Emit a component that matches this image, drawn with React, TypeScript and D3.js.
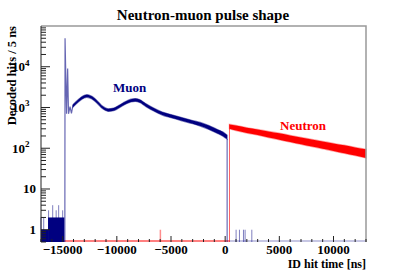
import React from "react";
import * as d3 from "d3";

const width = 407;
const height = 270;
const frame = { left: 41, right: 366, top: 26, bottom: 242 };

// muon: sharp prompt spike
const spikeTimes = [-14800, -14780, -14640, -14540, -14460, -14320, -14190, -14050];
const spikeHits = [0.5, 50000, 700, 9000, 700, 1050, 720, 1150];

// muon: smooth part (lower / upper edge of the noisy band)
const muonTimes = [-14050, -13500, -13000, -12780, -12300, -11800, -11300, -10800, -10300, -9800, -9200, -8700, -8300, -7900, -7300, -6600, -5800, -5000, -4000, -3000, -2300, -1500, -800, -200, 180];
const muonLow = [1020, 1400, 1720, 1780, 1620, 1250, 925, 800, 830, 970, 1200, 1370, 1410, 1330, 1050, 820, 650, 560, 470, 400, 350, 290, 236, 198, 168];
const muonHigh = [1180, 1620, 2000, 2060, 1880, 1450, 1075, 930, 965, 1130, 1400, 1600, 1660, 1560, 1230, 965, 770, 670, 565, 480, 430, 360, 296, 250, 210];

// muon: random hits before the spike and after the end
const muonNoiseBlocks = [
  [-17000, -16350, 1],
  [-16350, -14850, 2],
];
const muonSpikeTimes = [-17000, -16750, -16300, -15920, -15600, -15370, -15000, 1010, 1320, 1690, 1840, 2460];
const muonSpikeHits = [2, 2, 3, 4, 3, 4, 3, 1, 1, 1, 1, 1];

// neutron
const neutronTimes = [400, 1000, 2000, 3000, 4000, 5000, 6000, 7000, 8000, 9000, 10000, 11000, 12000, 13000];
const neutronLow = [300, 272, 236, 210, 183, 162, 142, 125, 110, 97, 86, 75, 66, 58];
const neutronHigh = [385, 360, 318, 290, 258, 233, 206, 183, 164, 147, 131, 118, 105, 94];
const neutronSpikeTimes = [-5980];
const neutronSpikeHits = [1];

const xTickValues = [-15000, -10000, -5000, 0, 5000, 10000];
const xTickLabels = ["\u221215000", "\u221210000", "\u22125000", "0", "5000", "10000"];
const yTickValues = [1, 10, 100, 1000, 10000];
const yTickBase = ["1", "10", "10", "10", "10"];
const yTickExp = ["", "", "2", "3", "4"];

const navy = "#000080";
const red = "#ff0000";
const font = "'Liberation Serif', 'Times New Roman', serif";

export default function App() {
  const x = d3.scaleLinear().domain([-17000, 13000]).range([frame.left, frame.right]);
  const y = d3.scaleLog().domain([0.5, 1e5]).range([frame.bottom, frame.top]);

  const band = d3
    .area<number>()
    .x((_, i) => x(muonTimes[i]))
    .y0((_, i) => y(muonLow[i]))
    .y1((_, i) => y(muonHigh[i]))
    .curve(d3.curveMonotoneX);

  const nBand = d3
    .area<number>()
    .x((_, i) => x(neutronTimes[i]))
    .y0((_, i) => y(neutronLow[i]))
    .y1((_, i) => y(neutronHigh[i]))
    .curve(d3.curveMonotoneX);

  const spikeLine = d3
    .line<number>()
    .x((_, i) => x(spikeTimes[i]))
    .y((_, i) => y(spikeHits[i]));

  const minorX = x.ticks(30).filter((t) => t % 5000 !== 0);
  const minorY = y
    .ticks()
    .filter((t) => !yTickValues.includes(t) && t < 1e5 && t >= 0.5);

  const nStart = neutronTimes[0];
  const nStartHigh = neutronHigh[0];
  const muonEnd = muonTimes[muonTimes.length - 1];

  return (
    <svg width={width} height={height} style={{ position: "absolute", left: 0, top: 0 }}>
      <rect width={width} height={height} fill="#fff" />

      <text x={203} y={20} textAnchor="middle" fontFamily={font} fontWeight="bold" fontSize={15}>
        Neutron-muon pulse shape
      </text>

      {/* neutron histogram */}
      <line x1={frame.left} x2={x(nStart)} y1={frame.bottom - 1} y2={frame.bottom - 1} stroke={red} strokeOpacity={0.5} strokeWidth={2} />
      {neutronSpikeTimes.map((t, i) => (
        <line key={"ns" + i} x1={x(t)} x2={x(t)} y1={frame.bottom} y2={y(neutronSpikeHits[i])} stroke={red} strokeOpacity={0.45} strokeWidth={1.5} />
      ))}
      <line x1={x(nStart)} x2={x(nStart)} y1={frame.bottom} y2={y(nStartHigh)} stroke={red} strokeOpacity={0.6} strokeWidth={1} />
      <path d={nBand(neutronTimes) ?? ""} fill={red} stroke={red} strokeWidth={1.5} strokeOpacity={0.35} />

      {/* muon histogram */}
      <line x1={x(nStart)} x2={frame.right} y1={frame.bottom - 1} y2={frame.bottom - 1} stroke={navy} strokeOpacity={0.3} strokeWidth={1.5} />
      {muonNoiseBlocks.map(([t0, t1, v], i) => (
        <rect key={"nb" + i} x={x(t0)} width={x(t1) - x(t0)} y={y(v)} height={frame.bottom - y(v)} fill={navy} />
      ))}
      {muonSpikeTimes.map((t, i) => (
        <line key={"ms" + i} x1={x(t)} x2={x(t)} y1={frame.bottom} y2={y(muonSpikeHits[i])} stroke={navy} strokeOpacity={0.5} strokeWidth={1} />
      ))}
      <path d={spikeLine(spikeTimes) ?? ""} fill="none" stroke={navy} strokeOpacity={0.6} strokeWidth={1.2} />
      <path d={band(muonTimes) ?? ""} fill={navy} stroke={navy} strokeWidth={1.2} strokeOpacity={0.5} />
      <line x1={x(muonEnd)} x2={x(muonEnd)} y1={y(muonLow[muonLow.length - 1])} y2={frame.bottom} stroke={navy} strokeOpacity={0.7} strokeWidth={1} />

      {/* frame */}
      <path
        d={`M${frame.left},${frame.top}H${frame.right}V${frame.bottom}`}
        fill="none"
        stroke="#999"
        strokeWidth={1.5}
      />
      <line x1={frame.left} x2={frame.left} y1={frame.top} y2={frame.bottom} stroke="#222" />

      {/* x axis */}
      {xTickValues.map((t, i) => (
        <g key={"xt" + i}>
          <line x1={x(t)} x2={x(t)} y1={frame.bottom} y2={frame.bottom - 6} stroke="#222" />
          <text x={x(t)} y={253.5} textAnchor="middle" fontFamily={font} fontWeight="bold" fontSize={13}>
            {xTickLabels[i]}
          </text>
        </g>
      ))}
      {minorX.map((t) => (
        <line key={"xm" + t} x1={x(t)} x2={x(t)} y1={frame.bottom} y2={frame.bottom - 3} stroke="#222" />
      ))}
      <text x={frame.right} y={267.5} textAnchor="end" fontFamily={font} fontWeight="bold" fontSize={12}>
        ID hit time [ns]
      </text>

      {/* y axis */}
      {yTickValues.map((v, i) => (
        <g key={"yt" + i}>
          <line x1={frame.left} x2={frame.left + 9} y1={y(v)} y2={y(v)} stroke="#222" />
          {yTickExp[i] ? (
            <text x={29.5} y={y(v) + 4.5} textAnchor="end" fontFamily={font} fontWeight="bold" fontSize={13}>
              {yTickBase[i]}
              <tspan fontSize={9} dy={-5.5}>
                {yTickExp[i]}
              </tspan>
            </text>
          ) : (
            <text x={36} y={y(v) + 4.5} textAnchor="end" fontFamily={font} fontWeight="bold" fontSize={13}>
              {yTickBase[i]}
            </text>
          )}
        </g>
      ))}
      {minorY.map((v) => (
        <line key={"ym" + v} x1={frame.left} x2={frame.left + 5} y1={y(v)} y2={y(v)} stroke="#222" />
      ))}
      <text
        transform={`translate(16,${frame.top}) rotate(-90)`}
        textAnchor="end"
        fontFamily={font}
        fontWeight="bold"
        fontSize={12.5}
      >
        Decoded hits / 5 ns
      </text>

      {/* labels */}
      <text x={113} y={91.5} fontFamily={font} fontWeight="bold" fontSize={13} fill={navy}>
        Muon
      </text>
      <text x={280} y={130} fontFamily={font} fontWeight="bold" fontSize={13} fill={red}>
        Neutron
      </text>
    </svg>
  );
}
